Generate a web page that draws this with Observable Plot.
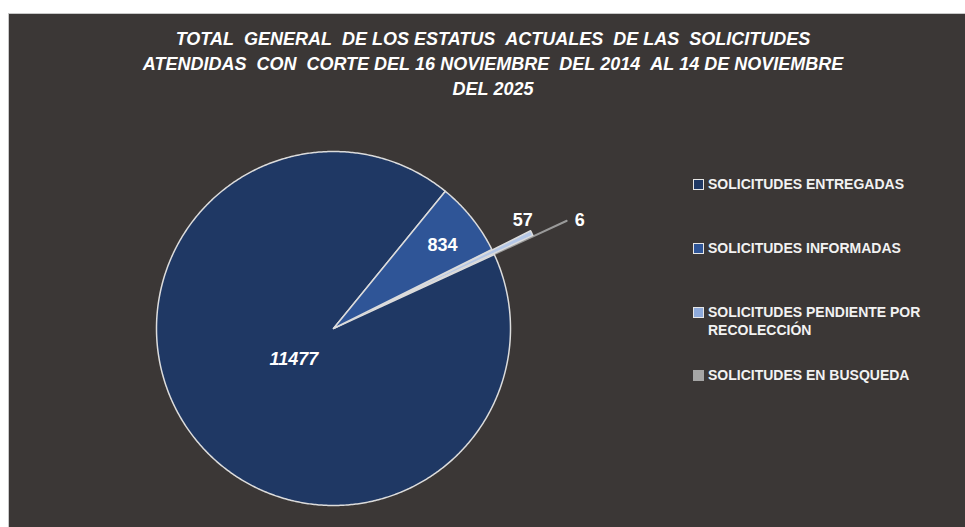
<!DOCTYPE html>
<html>
<head>
<meta charset="utf-8">
<script src="https://cdn.jsdelivr.net/npm/d3@7"></script>
<script src="https://cdn.jsdelivr.net/npm/@observablehq/plot@0.6"></script>
<style>
  html, body { margin: 0; padding: 0; background: #ffffff; }
  #wrap { position: relative; width: 965px; height: 527px; overflow: hidden; }
  #panel { position: absolute; left: 8px; top: 13px; right: 0; bottom: 0; background: #3b3736;
           border-left: 1px solid #c8c8c8; border-top: 1px solid #c8c8c8; }
  #title { position: absolute; left: 0; width: 986px; top: 27px; text-align: center; color: #ffffff;
           font: italic bold 18px "Liberation Sans", sans-serif; line-height: 25px; }
  #chart { position: absolute; left: 0; top: 0; }
  .leg { position: absolute; left: 708px; color: #f2f2f2; font: bold 14px "Liberation Sans", sans-serif;
         line-height: 18px; white-space: nowrap; }
  .leg .sw { position: absolute; left: -15px; top: 3.5px; width: 11px; height: 11px; box-sizing: border-box; }
</style>
</head>
<body>
<div id="wrap">
  <div id="panel"></div>
  <div id="title"></div>
  <div id="chart"></div>
</div>
<script>
// ---------- data ----------
const categories = [
  "SOLICITUDES ENTREGADAS",
  "SOLICITUDES INFORMADAS",
  "SOLICITUDES PENDIENTE POR RECOLECCIÓN",
  "SOLICITUDES EN BUSQUEDA"
];
const values = [11477, 834, 57, 6];
const legendLines = [
  ["SOLICITUDES ENTREGADAS"],
  ["SOLICITUDES INFORMADAS"],
  ["SOLICITUDES PENDIENTE POR", "RECOLECCIÓN"],
  ["SOLICITUDES EN BUSQUEDA"]
];
const titleLines = [
  "TOTAL  GENERAL  DE LOS ESTATUS  ACTUALES  DE LAS  SOLICITUDES",
  "ATENDIDAS  CON  CORTE DEL 16 NOVIEMBRE  DEL 2014  AL 14 DE NOVIEMBRE",
  "DEL 2025"
];

// ---------- styles / layout ----------
const colors = ["#1f3864", "#2f5597", "#b4c7e7", "#a5a5a5"];
const swatchFill = ["#1f3864", "#2f5597", "#8eaadb", "#a5a5a5"];
const swatchBorder = ["#e6e6e6", "#e6e6e6", "#e6e6e6", "#a5a5a5"];
const legendTops = [175, 239, 303, 366];
const cx = 333, cy = 328, R = 177, startDeg = 65.3;
const explode = [0, 0, 43, 80];
const labelPlace = [{r: 50, da: 0}, {r: 137, da: 1.4}, {r: 218, da: -4}, {r: 269, da: 1}];
const drawOrder = [3, 0, 1, 2];

// title
document.getElementById("title").innerHTML = titleLines.map(t => t.replace(/ /g, "&nbsp;")).join("<br>");

// legend
const wrap = document.getElementById("wrap");
categories.forEach((c, i) => {
  const d = document.createElement("div");
  d.className = "leg";
  d.style.top = legendTops[i] + "px";
  d.innerHTML = `<span class="sw" style="background:${swatchFill[i]};border:1.5px solid ${swatchBorder[i]}"></span>` +
    legendLines[i].join("<br>");
  wrap.appendChild(d);
});

// pie geometry
const rad = Math.PI / 180;
const arcs = d3.pie().sort(null).value(d => d)
  .startAngle(startDeg * rad).endAngle(startDeg * rad + 2 * Math.PI)(values);

const poly = [];
drawOrder.forEach(i => {
  const a = arcs[i];
  const m = (a.startAngle + a.endAngle) / 2;
  const ox = cx + explode[i] * Math.sin(m), oy = cy - explode[i] * Math.cos(m);
  poly.push({key: categories[i], x: ox, y: oy});
  const n = Math.max(2, Math.ceil((a.endAngle - a.startAngle) / (0.5 * rad)));
  for (let k = 0; k <= n; k++) {
    const t = a.startAngle + (a.endAngle - a.startAngle) * k / n;
    poly.push({key: categories[i], x: ox + R * Math.sin(t), y: oy - R * Math.cos(t)});
  }
  poly.push({key: categories[i], x: ox, y: oy});
});

const labels = arcs.map((a, i) => {
  const m = (a.startAngle + a.endAngle) / 2 + labelPlace[i].da * rad;
  return {text: String(values[i]), x: cx + labelPlace[i].r * Math.sin(m), y: cy - labelPlace[i].r * Math.cos(m), italic: i === 0};
});

const isSmallest = d => d.key === categories[3];

const plot = Plot.plot({
  width: 965,
  height: 527,
  margin: 0,
  style: {background: "none", overflow: "visible"},
  x: {domain: [0, 965], range: [0, 965], axis: null},
  y: {domain: [0, 527], range: [0, 527], axis: null},
  color: {domain: categories, range: colors},
  marks: [
    Plot.line(poly.filter(isSmallest), {x: "x", y: "y", z: "key", fill: "key", stroke: "#9a9a9a", strokeWidth: 1.5, strokeLinejoin: "round", curve: "linear"}),
    Plot.line(poly.filter(d => !isSmallest(d)), {x: "x", y: "y", z: "key", fill: "key", stroke: "#dcdcdc", strokeWidth: 1.5, strokeLinejoin: "round", curve: "linear"}),
    Plot.text(labels.filter(d => d.italic), {x: "x", y: "y", text: "text", fill: "#ffffff", fontSize: 18, fontWeight: "bold", fontStyle: "italic", fontFamily: "Liberation Sans"}),
    Plot.text(labels.filter(d => !d.italic), {x: "x", y: "y", text: "text", fill: "#ffffff", fontSize: 18, fontWeight: "bold", fontFamily: "Liberation Sans"})
  ]
});
document.getElementById("chart").appendChild(plot);
</script>
</body>
</html>
